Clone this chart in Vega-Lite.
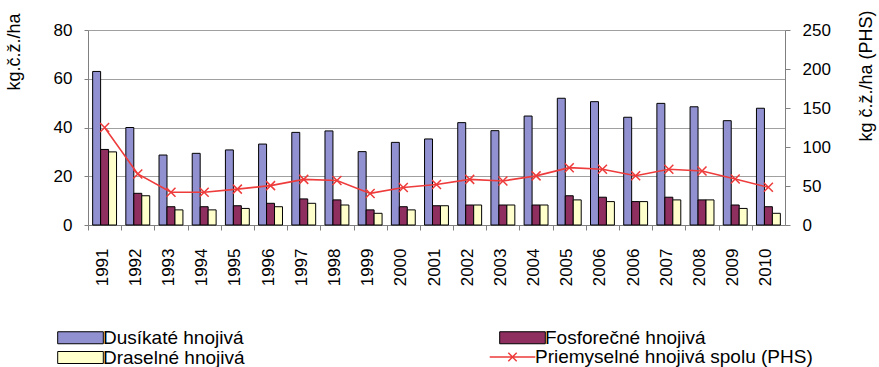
{
  "$schema": "https://vega.github.io/schema/vega-lite/v6.json",
  "width": 697,
  "height": 195,
  "autosize": "none",
  "padding": {"left": 88, "top": 30, "right": 94, "bottom": 142},
  "background": "white",
  "config": {
    "font": "Liberation Sans",
    "view": {"stroke": null},
    "axis": {"domainColor": "#808080", "tickColor": "#808080", "labelColor": "#000000", "titleColor": "#000000", "titleFontWeight": "normal"}
  },
  "datasets": {
    "bars": [
      {"i": 1, "s": "Dusíkaté hnojivá", "v": 63}, {"i": 1, "s": "Fosforečné hnojivá", "v": 31}, {"i": 1, "s": "Draselné hnojivá", "v": 30},
      {"i": 2, "s": "Dusíkaté hnojivá", "v": 40}, {"i": 2, "s": "Fosforečné hnojivá", "v": 13}, {"i": 2, "s": "Draselné hnojivá", "v": 12},
      {"i": 3, "s": "Dusíkaté hnojivá", "v": 28.7}, {"i": 3, "s": "Fosforečné hnojivá", "v": 7.5}, {"i": 3, "s": "Draselné hnojivá", "v": 6.2},
      {"i": 4, "s": "Dusíkaté hnojivá", "v": 29.4}, {"i": 4, "s": "Fosforečné hnojivá", "v": 7.5}, {"i": 4, "s": "Draselné hnojivá", "v": 6.2},
      {"i": 5, "s": "Dusíkaté hnojivá", "v": 30.8}, {"i": 5, "s": "Fosforečné hnojivá", "v": 7.9}, {"i": 5, "s": "Draselné hnojivá", "v": 6.8},
      {"i": 6, "s": "Dusíkaté hnojivá", "v": 33.2}, {"i": 6, "s": "Fosforečné hnojivá", "v": 8.9}, {"i": 6, "s": "Draselné hnojivá", "v": 7.5},
      {"i": 7, "s": "Dusíkaté hnojivá", "v": 38}, {"i": 7, "s": "Fosforečné hnojivá", "v": 10.7}, {"i": 7, "s": "Draselné hnojivá", "v": 8.9},
      {"i": 8, "s": "Dusíkaté hnojivá", "v": 38.6}, {"i": 8, "s": "Fosforečné hnojivá", "v": 10.3}, {"i": 8, "s": "Draselné hnojivá", "v": 8.2},
      {"i": 9, "s": "Dusíkaté hnojivá", "v": 30.1}, {"i": 9, "s": "Fosforečné hnojivá", "v": 6.2}, {"i": 9, "s": "Draselné hnojivá", "v": 4.8},
      {"i": 10, "s": "Dusíkaté hnojivá", "v": 33.9}, {"i": 10, "s": "Fosforečné hnojivá", "v": 7.5}, {"i": 10, "s": "Draselné hnojivá", "v": 6.2},
      {"i": 11, "s": "Dusíkaté hnojivá", "v": 35.3}, {"i": 11, "s": "Fosforečné hnojivá", "v": 7.9}, {"i": 11, "s": "Draselné hnojivá", "v": 7.9},
      {"i": 12, "s": "Dusíkaté hnojivá", "v": 42}, {"i": 12, "s": "Fosforečné hnojivá", "v": 8.2}, {"i": 12, "s": "Draselné hnojivá", "v": 8.2},
      {"i": 13, "s": "Dusíkaté hnojivá", "v": 38.7}, {"i": 13, "s": "Fosforečné hnojivá", "v": 8.2}, {"i": 13, "s": "Draselné hnojivá", "v": 8.2},
      {"i": 14, "s": "Dusíkaté hnojivá", "v": 44.7}, {"i": 14, "s": "Fosforečné hnojivá", "v": 8.2}, {"i": 14, "s": "Draselné hnojivá", "v": 8.2},
      {"i": 15, "s": "Dusíkaté hnojivá", "v": 52}, {"i": 15, "s": "Fosforečné hnojivá", "v": 12}, {"i": 15, "s": "Draselné hnojivá", "v": 10.3},
      {"i": 16, "s": "Dusíkaté hnojivá", "v": 50.6}, {"i": 16, "s": "Fosforečné hnojivá", "v": 11.4}, {"i": 16, "s": "Draselné hnojivá", "v": 9.6},
      {"i": 17, "s": "Dusíkaté hnojivá", "v": 44.2}, {"i": 17, "s": "Fosforečné hnojivá", "v": 9.6}, {"i": 17, "s": "Draselné hnojivá", "v": 9.6},
      {"i": 18, "s": "Dusíkaté hnojivá", "v": 49.9}, {"i": 18, "s": "Fosforečné hnojivá", "v": 11.4}, {"i": 18, "s": "Draselné hnojivá", "v": 10.3},
      {"i": 19, "s": "Dusíkaté hnojivá", "v": 48.5}, {"i": 19, "s": "Fosforečné hnojivá", "v": 10.3}, {"i": 19, "s": "Draselné hnojivá", "v": 10.3},
      {"i": 20, "s": "Dusíkaté hnojivá", "v": 42.8}, {"i": 20, "s": "Fosforečné hnojivá", "v": 8.2}, {"i": 20, "s": "Draselné hnojivá", "v": 6.8},
      {"i": 21, "s": "Dusíkaté hnojivá", "v": 47.9}, {"i": 21, "s": "Fosforečné hnojivá", "v": 7.5}, {"i": 21, "s": "Draselné hnojivá", "v": 4.8}
    ],
    "phs": [
      {"i": 1, "v": 125}, {"i": 2, "v": 65.5}, {"i": 3, "v": 42}, {"i": 4, "v": 42}, {"i": 5, "v": 46},
      {"i": 6, "v": 50.5}, {"i": 7, "v": 58.5}, {"i": 8, "v": 57}, {"i": 9, "v": 40.5}, {"i": 10, "v": 48},
      {"i": 11, "v": 52}, {"i": 12, "v": 58.5}, {"i": 13, "v": 56.5}, {"i": 14, "v": 63}, {"i": 15, "v": 73.5},
      {"i": 16, "v": 71.5}, {"i": 17, "v": 63.2}, {"i": 18, "v": 71.4}, {"i": 19, "v": 69.2}, {"i": 20, "v": 59}, {"i": 21, "v": 48.3}
    ]
  },
  "layer": [
    {
      "data": {"name": "bars"},
      "mark": {"type": "bar", "stroke": "#000000", "strokeWidth": 1},
      "encoding": {
        "x": {
          "field": "i", "type": "ordinal",
          "scale": {"paddingInner": 0.28, "paddingOuter": 0.14},
          "axis": {
            "title": null, "labelAngle": -90, "labelFontSize": 17,
            "labelExpr": "['1991','1992','1993','1994','1995','1996','1997','1998','1999','2000','2001','2002','2003','2004','2005','2006','2006','2007','2008','2009','2010'][datum.value-1]",
            "tickSize": 5, "tickOffset": -16.6, "labelOffset": 14.1, "labelPadding": 18, "grid": false
          }
        },
        "xOffset": {"field": "s", "type": "nominal", "scale": {"domain": ["Dusíkaté hnojivá", "Fosforečné hnojivá", "Draselné hnojivá"], "paddingInner": 0, "paddingOuter": 0}},
        "y": {
          "field": "v", "type": "quantitative",
          "scale": {"domain": [0, 80], "nice": false},
          "axis": {
            "title": "kg.č.ž./ha", "values": [0, 20, 40, 60, 80], "grid": true, "gridColor": "#a0a0a0",
            "tickSize": 4, "labelPadding": 12, "labelFontSize": 17, "titleFontSize": 18,
            "titleAngle": -90, "titleAlign": "right", "titleBaseline": "alphabetic", "titleX": -69, "titleY": -17
          }
        },
        "fill": {
          "field": "s", "type": "nominal",
          "scale": {
            "domain": ["Dusíkaté hnojivá", "Draselné hnojivá", "Fosforečné hnojivá"],
            "range": ["#9191d2", "#ffffcc", "#8e2f60"]
          },
          "legend": {
            "title": null, "orient": "none", "legendX": -17, "legendY": 298, "columns": 2,
            "labelFontSize": 19, "labelOffset": 13, "symbolSize": 144, "columnPadding": 252, "rowPadding": -5.5, "padding": 0, "labelLimit": 0,
            "symbolType": "M-3.8,-1H3.8V1H-3.8Z", "symbolStrokeColor": "#000000", "symbolStrokeWidth": 1, "symbolOpacity": 1
          }
        }
      }
    },
    {
      "data": {"name": "phs"},
      "encoding": {
        "x": {"field": "i", "type": "ordinal"},
        "y": {
          "field": "v", "type": "quantitative",
          "scale": {"domain": [0, 250], "nice": false},
          "axis": {
            "orient": "right", "title": "kg č.ž./ha (PHS)", "values": [0, 50, 100, 150, 200, 250], "grid": false,
            "tickSize": 5, "labelPadding": 12, "labelFontSize": 17, "titleFontSize": 18,
            "titleAngle": -90, "titleAlign": "right", "titleBaseline": "alphabetic", "titleX": 86, "titleY": -20
          }
        },
        "stroke": {
          "datum": "Priemyselné hnojivá spolu (PHS)", "type": "nominal",
          "scale": {"domain": ["Priemyselné hnojivá spolu (PHS)"], "range": ["#ee3b3b"]},
          "legend": {
            "title": null, "orient": "none", "legendX": 415, "legendY": 317.5,
            "labelFontSize": 19, "labelOffset": 13, "symbolSize": 144, "padding": 0, "labelLimit": 0,
            "symbolType": "M-3.8,0H3.8M-0.7,-0.7L0.7,0.7M-0.7,0.7L0.7,-0.7", "symbolStrokeWidth": 1.5, "symbolFillColor": "transparent", "symbolOpacity": 1
          }
        }
      },
      "layer": [
        {"mark": {"type": "line", "strokeWidth": 1.6}},
        {"mark": {"type": "point", "shape": "M-1,-1L1,1M-1,1L1,-1", "size": 81, "filled": false, "strokeWidth": 1.5, "opacity": 1}}
      ]
    }
  ],
  "resolve": {"scale": {"y": "independent"}}
}
